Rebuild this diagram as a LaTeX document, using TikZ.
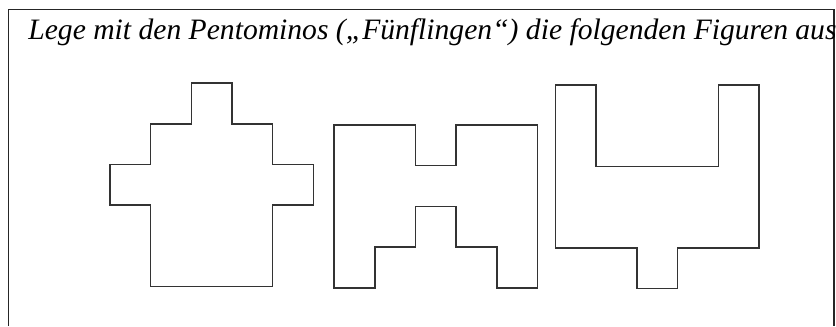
\documentclass[tikz,border=0pt]{standalone}
\usepackage{fontspec}
\setmainfont{Liberation Serif}
\usetikzlibrary{positioning}

\begin{document}
\begin{tikzpicture}[x=1cm, y=1cm, line join=miter]

\tikzstyle{outline} = [draw=black!80, line width=1.1pt]
\tikzstyle{frame} = [draw=black!85, line width=0.8pt]

\useasboundingbox (0,0) rectangle (20.54,8.01);

% open frame round the sheet
\draw[frame] (0.2,0) -- (0.2,7.78) -- (20.49,7.78) -- (20.49,0);

\node[anchor=base west, inner sep=0pt, font=\fontsize{20.7}{24}\selectfont\itshape] at (0.69,7.03) (title) {Lege mit den Pentominos („Fünflingen“) die folgenden Figuren aus};

% figure 1
\begin{scope}[shift={(2.70,5.97)}, yscale=-1]
\draw[outline] (2,0) -- (3,0) -- (3,1) -- (4,1) -- (4,2) -- (5,2) -- (5,3) -- (4,3) -- (4,5) -- (1,5) -- (1,3) -- (0,3) -- (0,2) -- (1,2) -- (1,1) -- (2,1) -- cycle;
\end{scope}

% figure 2
\begin{scope}[shift={(8.21,4.94)}, yscale=-1]
\draw[outline] (0,0) -- (2,0) -- (2,1) -- (3,1) -- (3,0) -- (5,0) -- (5,4) -- (4,4) -- (4,3) -- (3,3) -- (3,2) -- (2,2) -- (2,3) -- (1,3) -- (1,4) -- (0,4) -- cycle;
\end{scope}

% figure 3
\begin{scope}[shift={(13.65,5.92)}, yscale=-1]
\draw[outline] (0,0) -- (1,0) -- (1,2) -- (4,2) -- (4,0) -- (5,0) -- (5,4) -- (3,4) -- (3,5) -- (2,5) -- (2,4) -- (0,4) -- cycle;
\end{scope}

\end{tikzpicture}
\end{document}
